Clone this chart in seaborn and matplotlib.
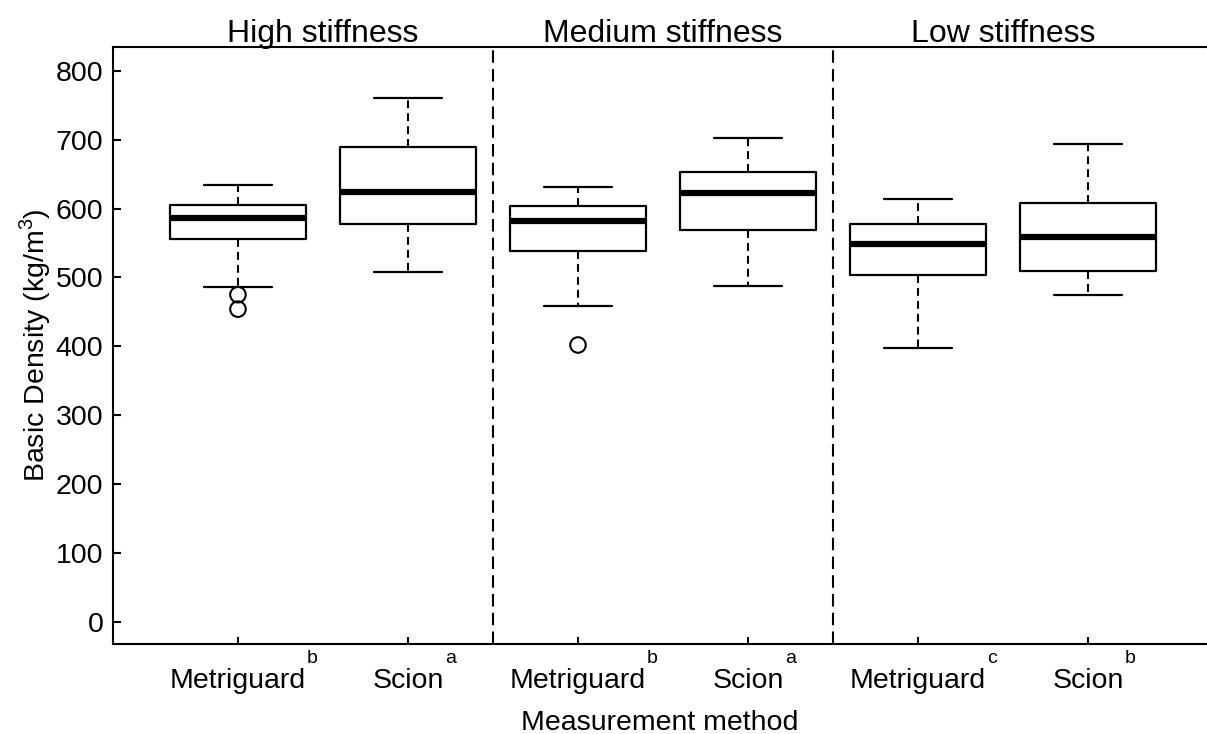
import matplotlib
matplotlib.use("Agg")
import matplotlib.pyplot as plt
import seaborn as sns
import numpy as np

# ---- data ----
stiffness = ["High stiffness", "Medium stiffness", "Low stiffness"]
methods = ["Metriguard", "Scion"]
letters = ["b", "a", "b", "a", "c", "b"]
whis_low = [486, 508, 458, 487, 397, 474]
q1 = [556, 578, 539, 569, 503, 510]
medians = [586, 624, 582, 623, 548, 559]
q3 = [605, 690, 604, 653, 577, 608]
whis_high = [634, 761, 632, 702, 614, 694]
outlier_group = [0, 0, 2]
outlier_values = [475, 454, 402]
yticks = [0, 100, 200, 300, 400, 500, 600, 700, 800]

sns.set_theme(style="ticks")
plt.rcParams["font.family"] = ["Liberation Sans", "DejaVu Sans"]
plt.rcParams["mathtext.fontset"] = "custom"
plt.rcParams["mathtext.rm"] = "Liberation Sans"

W, H = 1207, 734
fig = plt.figure(figsize=(W / 100, H / 100), dpi=100)
fig.patch.set_facecolor("white")
ax = fig.add_axes([113 / W, 1 - 644 / H, 1 - 113 / W, (644 - 47) / H])
ax.set_facecolor("white")

positions = np.arange(1, len(medians) + 1)
stats = []
for i in range(len(medians)):
    stats.append(dict(whislo=whis_low[i], q1=q1[i], med=medians[i],
                      q3=q3[i], whishi=whis_high[i], fliers=[]))

ax.bxp(stats, positions=positions, widths=0.8, capwidths=0.4,
       showfliers=False,
       boxprops=dict(color="black", linewidth=1.6),
       whiskerprops=dict(color="black", linewidth=1.5, linestyle=(0, (3.8, 2.4))),
       capprops=dict(color="black", linewidth=1.6),
       medianprops=dict(color="black", linewidth=4.5, solid_capstyle="butt"))

sns.scatterplot(x=[positions[g] for g in outlier_group], y=outlier_values, ax=ax,
                marker="o", s=125, facecolor="none", edgecolor="black",
                linewidth=1.5, zorder=5)

for xd in [2.5, 4.5]:
    ax.axvline(xd, color="black", linewidth=1.5, linestyle=(0, (6, 3)))

ax.set_xlim(0.265, 6.70)
ax.set_ylim(-32, 834.5)
ax.set_yticks(yticks)
ax.set_yticklabels([str(v) for v in yticks])
ax.set_xticks(positions)
ax.set_xticklabels(methods * 3)

ax.tick_params(axis="y", direction="in", length=6, width=1.5, pad=7,
               labelsize=20.5, colors="black")
ax.tick_params(axis="x", direction="in", length=5, width=1.5, pad=17,
               labelsize=20.5, colors="black")

for side in ["left", "bottom", "top"]:
    ax.spines[side].set_linewidth(1.5)
    ax.spines[side].set_color("black")
ax.spines["right"].set_visible(False)

trans = matplotlib.transforms.blended_transform_factory(ax.transData, ax.transAxes)
for k, title in enumerate(stiffness):
    ax.text(1.5 + 2 * k, (644 - 42) / 597, title, transform=trans,
            ha="center", va="baseline", fontsize=23, color="black")

ax.set_xlabel("Measurement method", fontsize=20.5, color="black")
ax.xaxis.set_label_coords(0.5, -0.111)
ax.set_ylabel(r"Basic Density (kg/m$^{\mathregular{3}}$)", fontsize=20.5,
              color="black", va="center")
ax.yaxis.set_label_coords((35 - 113) / 1094, 0.5)

fig.canvas.draw()
renderer = fig.canvas.get_renderer()
for lab, letter in zip(ax.get_xticklabels(), letters):
    bb = lab.get_window_extent(renderer)
    fig.text((bb.x1 + 1) / W, (H - 663) / H, letter, ha="left",
             va="baseline", fontsize=14, color="black")

fig.savefig("out.png", dpi=100, facecolor="white")
